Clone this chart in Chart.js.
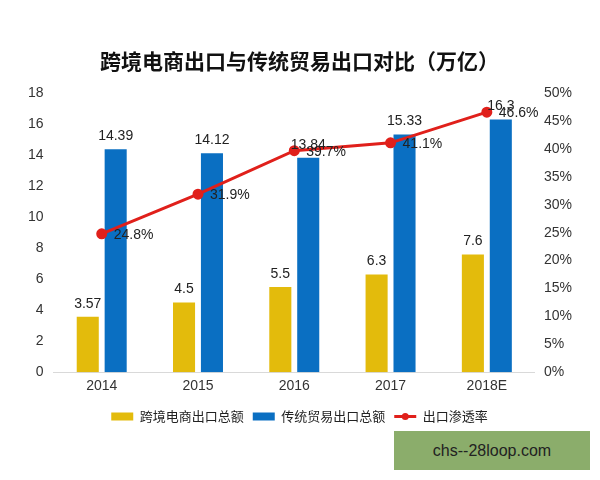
<!DOCTYPE html>
<html>
<head>
<meta charset="utf-8">
<script src="https://cdn.jsdelivr.net/npm/chart.js@4"></script>
<style>
  html, body { margin: 0; padding: 0; background: #fff; }
  #wrap { position: relative; width: 600px; height: 480px; }
  #mark {
    position: absolute; left: 394px; top: 431px; width: 196px; height: 39px;
    background: #8bad6b; color: #222; font: 16px 'Liberation Sans', Arial, sans-serif;
    line-height: 39px; text-align: center;
  }
</style>
</head>
<body>
<div id="wrap">
  <canvas id="myChart" width="600" height="480"></canvas>
  <div id="mark">chs--28loop.com</div>
</div>
<script>
// values
const years = ['2014', '2015', '2016', '2017', '2018E']
const crossBorder = [3.57, 4.5, 5.5, 6.3, 7.6]
const traditional = [14.39, 14.12, 13.84, 15.33, 16.3]
const penetration = [24.8, 31.9, 39.7, 41.1, 46.6]

Chart.defaults.font.family = "'Liberation Sans', 'Noto Sans CJK SC', Arial, sans-serif"
Chart.defaults.color = '#333'

// draws the value labels (bars above, line to the right of each point)
const valueLabels = {
    id: 'valueLabels',
    afterDatasetsDraw(chart) {
        const ctx = chart.ctx
        ctx.save()
        ctx.font = "14px 'Liberation Sans', Arial, sans-serif"
        ctx.fillStyle = '#222'
        chart.data.datasets.forEach((ds, i) => {
            const meta = chart.getDatasetMeta(i)
            meta.data.forEach((el, j) => {
                const v = ds.data[j]
                if (ds.type === 'line') {
                    ctx.textAlign = 'left'
                    ctx.textBaseline = 'middle'
                    ctx.fillText(v.toFixed(1) + '%', el.x + 12, el.y + 1)
                } else {
                    ctx.textAlign = 'center'
                    ctx.textBaseline = 'bottom'
                    ctx.fillText(String(v), el.x, el.y - 6)
                }
            })
        })
        ctx.restore()
    },
    // dot in the middle of the line legend marker
    afterDraw(chart) {
        const boxes = chart.legend && chart.legend.legendHitBoxes
        if (!boxes || !boxes[2]) return
        const b = boxes[2]
        const ctx = chart.ctx
        ctx.save()
        ctx.fillStyle = '#e0201b'
        ctx.beginPath()
        ctx.arc(b.left + 11, b.top + b.height / 2, 3.5, 0, Math.PI * 2)
        ctx.fill()
        ctx.restore()
    }
}

const ctx = document.getElementById('myChart').getContext('2d')
new Chart(ctx, {
    data: {
        labels: years,
        datasets: [
            {
                type: 'bar',
                label: '跨境电商出口总额',
                data: crossBorder,
                backgroundColor: '#e3bb0c',
                yAxisID: 'y',
                categoryPercentage: 0.58,
                barPercentage: 0.79,
                order: 2
            },
            {
                type: 'bar',
                label: '传统贸易出口总额',
                data: traditional,
                backgroundColor: '#0a6fc2',
                yAxisID: 'y',
                categoryPercentage: 0.58,
                barPercentage: 0.79,
                order: 2
            },
            {
                type: 'line',
                label: '出口渗透率',
                data: penetration,
                borderColor: '#e0201b',
                backgroundColor: '#e0201b',
                borderWidth: 3,
                pointRadius: 4,
                pointHoverRadius: 4,
                yAxisID: 'y1',
                order: 1
            }
        ]
    },
    options: {
        responsive: false,
        animation: false,
        layout: { padding: { left: 18, right: 19, top: 48, bottom: 47 } },
        scales: {
            x: {
                grid: { display: false, drawTicks: false },
                border: { color: '#d9d9d9' },
                ticks: { font: { size: 14 }, color: '#333', padding: 6 }
            },
            y: {
                position: 'left',
                min: 0,
                max: 18,
                ticks: { stepSize: 2, font: { size: 14 }, color: '#333', padding: 10 },
                grid: { display: false, drawTicks: false },
                border: { display: false }
            },
            y1: {
                position: 'right',
                min: 0,
                max: 50,
                ticks: {
                    stepSize: 5,
                    font: { size: 14 },
                    color: '#333',
                    padding: 9,
                    callback: (v) => v + '%'
                },
                grid: { display: false, drawTicks: false },
                border: { display: false }
            }
        },
        plugins: {
            title: {
                display: true,
                text: '跨境电商出口与传统贸易出口对比（万亿）',
                font: { size: 21, weight: 'bold', family: "'Noto Sans CJK SC', sans-serif" },
                color: '#111',
                padding: { top: 0, bottom: 20 }
            },
            legend: {
                position: 'bottom',
                labels: {
                    usePointStyle: true,
                    pointStyleWidth: 22,
                    boxHeight: 8,
                    padding: 9,
                    color: '#222',
                    font: { size: 13, family: "'Noto Sans CJK SC', sans-serif" },
                    sort: (a, b) => a.datasetIndex - b.datasetIndex,
                    generateLabels: (chart) => {
                        const items = Chart.defaults.plugins.legend.labels.generateLabels(chart)
                        items.forEach(it => {
                            if (it.datasetIndex === 2) {
                                it.pointStyle = 'line'
                                it.lineWidth = 3
                            } else {
                                it.pointStyle = 'rect'
                                it.lineWidth = 0
                            }
                        })
                        return items
                    }
                }
            },
            tooltip: { enabled: false }
        }
    },
    plugins: [valueLabels]
})
</script>
</body>
</html>
